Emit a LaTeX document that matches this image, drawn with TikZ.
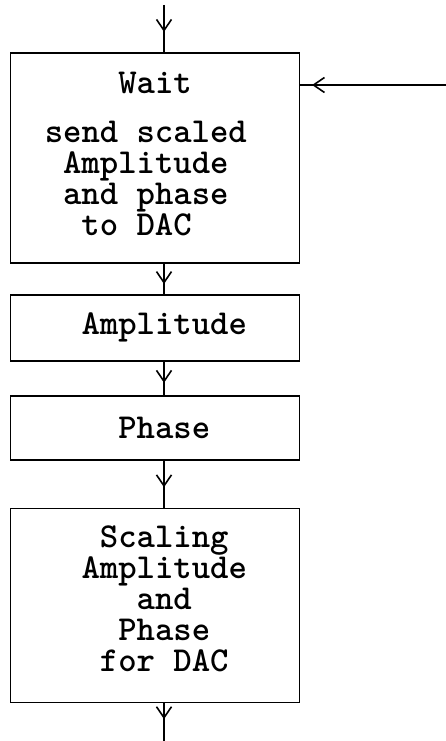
\documentclass[tikz,border=0pt]{standalone}
\usetikzlibrary{arrows.meta,positioning,decorations.markings}

% monospaced indent of #1 character cells
\newcommand{\blankchars}[1]{\hbox to #1\dimexpr0.525em\relax{}}
% extra depth under the last line lifts the text in its box
\newcommand{\extradepth}[1]{\rule[-#1]{0pt}{#1}}

\begin{document}
\begin{tikzpicture}[x=1pt, y=-1pt, node distance=30pt, block/.style={rectangle,draw,line width=1.8pt,minimum width=289pt,inner sep=0pt,align=left,font=\fontsize{35}{31}\selectfont\ttfamily\bfseries}, flow/.style={line width=1.6pt,postaction={decorate},decoration={markings,mark=at position #1 with {\arrow{Straight Barb[length=11pt,width=15pt]}}}}]
\useasboundingbox (0,0) rectangle (446,741);
\node[block,minimum height=210pt] (wait) at (155,158) {\blankchars{4}Wait\\[18pt]
send scaled\blankchars{1}\\
\blankchars{1}Amplitude\\
\blankchars{1}and phase\\
\blankchars{2}to DAC\extradepth{9pt}};
\node[block,minimum height=66pt,below=30pt of wait] (amp) {\blankchars{1}Amplitude};
\node[block,minimum height=64pt,below=33pt of amp] (phase) {\blankchars{1}Phase};
\node[block,minimum height=194pt,below=47pt of phase] (scale) {\blankchars{2}Scaling\\
\blankchars{1}Amplitude\\
\blankchars{4}and\\
\blankchars{3}Phase\\
\blankchars{2}for DAC\extradepth{13pt}};
% free ends: entry, feedback and exit
\coordinate (in) at (164,5);
\coordinate (back) at (446,85);
\coordinate (out) at (164,741);
\draw[flow=0.57] (in) -- (in |- wait.north);
\draw[flow=0.92] (back) -- (back -| wait.east);
\draw[flow=0.67] ([xshift=9pt]wait.south) -- ([xshift=9pt]amp.north);
\draw[flow=0.64] ([xshift=9pt]amp.south) -- ([xshift=9pt]phase.north);
\draw[flow=0.57] ([xshift=9pt]phase.south) -- ([xshift=9pt]scale.north);
\draw[flow=0.42] ([xshift=9pt]scale.south) -- (out);
\end{tikzpicture}
\end{document}
